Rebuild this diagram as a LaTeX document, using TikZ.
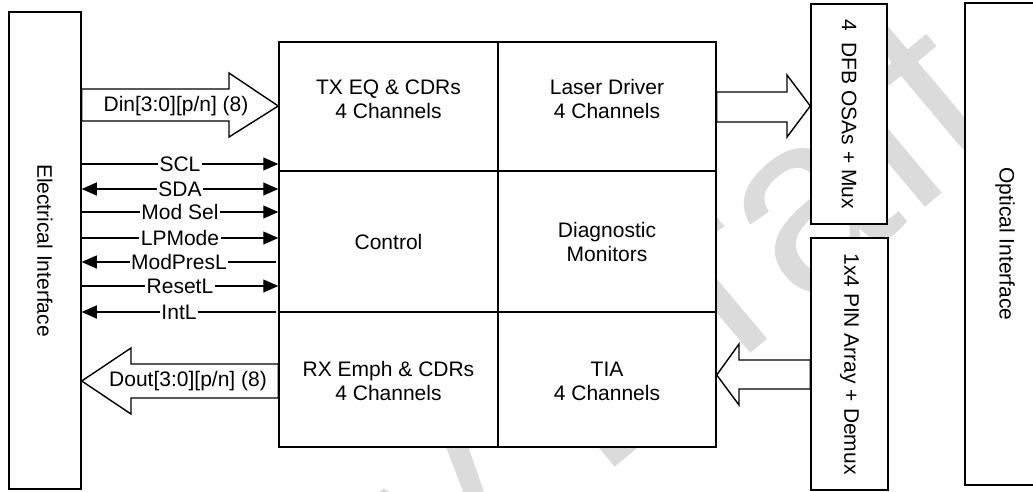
\documentclass[tikz,border=0pt]{standalone}
\usepackage{fontspec}
\usepackage{graphicx}
\setmainfont{Liberation Sans}
\usetikzlibrary{arrows.meta,calc}
\begin{document}
\begin{tikzpicture}[x=1pt,y=-1pt,
  txt/.style={font=\fontsize{21}{24}\selectfont,align=center,inner sep=0pt},
  box/.style={draw,line width=1.5pt,fill=white,inner sep=0pt},
  sig/.style={line width=1.3pt},
  lbl/.style={fill=white,inner sep=1.5pt,font=\fontsize{21}{24}\selectfont},
  tipr/.style={-{Triangle[length=15pt,width=13pt]}},
  tipl/.style={{Triangle[length=15pt,width=13pt]}-},
  tipb/.style={{Triangle[length=15pt,width=13pt]}-{Triangle[length=15pt,width=13pt]}},
  bigarrow/.style={draw,line width=1.4pt,fill=white,line join=miter},
  wmark/.style={text=black!14,font=\fontsize{250}{250}\selectfont,inner sep=0pt}
]
\clip (0,0) rectangle (1033,491);
\fill[white] (0,0) rectangle (1033,491);

% watermark
\node[wmark,rotate=40,anchor=base east] (wm) at (1015,132) {Preliminary Draft};

% boxes
\node[box,minimum width=72pt,minimum height=477pt] (elec) at (45,250.5) {};
\node[txt] at (elec) {\rotatebox{-90}{Electrical Interface}};
\node[box,minimum width=219pt,minimum height=129pt] (tx) at (388.5,106.5) {};
\node[box,minimum width=218pt,minimum height=129pt] (ld) at (607,106.5) {};
\node[box,minimum width=219pt,minimum height=141pt] (ctrl) at (388.5,241.5) {};
\node[box,minimum width=218pt,minimum height=141pt] (diag) at (607,241.5) {};
\node[box,minimum width=219pt,minimum height=135pt] (rx) at (388.5,379.5) {};
\node[box,minimum width=218pt,minimum height=135pt] (tia) at (607,379.5) {};
\node[box,minimum width=76pt,minimum height=220pt] (dfb) at (849,114) {};
\node[box,minimum width=77pt,minimum height=252pt] (pin) at (849.5,364) {};
\node[box,minimum width=80pt,minimum height=482pt] (opt) at (1005,244) {};

\node[txt] at ($(tx)+(0,-7.5)$) {TX EQ \& CDRs\\4 Channels};
\node[txt] at ($(ld)+(0,-7.5)$) {Laser Driver\\4 Channels};
\node[txt] at (ctrl) {Control};
\node[txt] at (diag) {Diagnostic\\Monitors};
\node[txt] at ($(rx)+(0,1.5)$) {RX Emph \& CDRs\\4 Channels};
\node[txt] at ($(tia)+(0,1.5)$) {TIA\\4 Channels};
\node[txt] at (dfb) {\rotatebox{-90}{4~~DFB OSAs + Mux}};
\node[txt] at (pin) {\rotatebox{-90}{1x4 PIN Array + Demux}};
\node[txt] at (opt) {\rotatebox{-90}{Optical Interface}};

% wide data arrows
\draw[bigarrow] (elec.east |- 0,89) -- (229,89) -- (229,73) -- (tx.west |- 0,106)
  -- (229,137) -- (229,121) -- (elec.east |- 0,121) -- cycle;
\node[txt] (din) at (176,106) {Din[3:0][p/n] (8)};
\draw[bigarrow] (ld.east |- 0,92) -- (787,92) -- (787,75) -- (dfb.west |- 0,106)
  -- (787,137) -- (787,122) -- (ld.east |- 0,122) -- cycle;
\draw[bigarrow] (elec.east |- 0,381) -- (131,348) -- (131,364) -- (rx.west |- 0,364)
  -- (rx.west |- 0,398) -- (131,398) -- (131,414) -- cycle;
\node[txt] (dout) at (188,381) {Dout[3:0][p/n] (8)};
\draw[bigarrow] (tia.east |- 0,375) -- (739,344) -- (739,360) -- (pin.west |- 0,360)
  -- (pin.west |- 0,389) -- (739,389) -- (739,405) -- cycle;

% management signals
\draw[sig,tipr] (elec.east |- 0,164) -- node[lbl]{SCL} (ctrl.west |- 0,164);
\draw[sig,tipb] (elec.east |- 0,189) -- node[lbl]{SDA} (ctrl.west |- 0,189);
\draw[sig,tipr] (elec.east |- 0,212) -- node[lbl]{Mod Sel} (ctrl.west |- 0,212);
\draw[sig,tipr] (elec.east |- 0,238) -- node[lbl]{LPMode} (ctrl.west |- 0,238);
\draw[sig,tipl] (elec.east |- 0,262) -- node[lbl]{ModPresL} ($(ctrl.west |- 0,262)+(-2,0)$);
\draw[sig,tipr] (elec.east |- 0,286) -- node[lbl]{ResetL} (ctrl.west |- 0,286);
\draw[sig,tipl] (elec.east |- 0,312) -- node[lbl]{IntL} ($(ctrl.west |- 0,312)+(-2,0)$);
\end{tikzpicture}
\end{document}
